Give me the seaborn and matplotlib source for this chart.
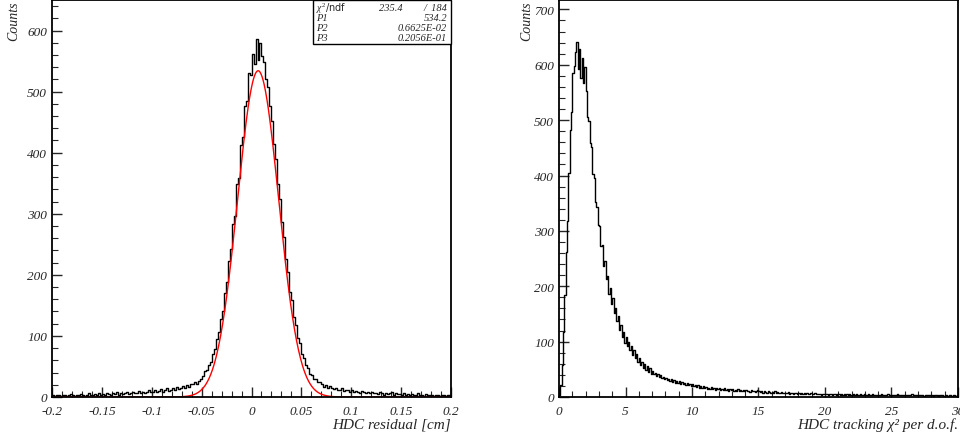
import matplotlib
matplotlib.use("Agg")
import matplotlib.pyplot as plt
import numpy as np
import pandas as pd
import seaborn as sns
from matplotlib.patches import Rectangle
from matplotlib.ticker import FuncFormatter, MultipleLocator

sns.set_style("ticks")
plt.rcParams["font.family"] = ["Liberation Serif", "DejaVu Serif"]
plt.rcParams["mathtext.fontset"] = "custom"
plt.rcParams["mathtext.it"] = "Liberation Serif:italic"
plt.rcParams["mathtext.rm"] = "Liberation Serif"

# HDC residual histogram, 200 bins from -0.2 to 0.2 cm
RES_RANGE = (-0.2, 0.2)
res_counts = [
    3, 2, 4, 3, 1, 3, 4, 2, 3, 5, 3, 2, 4, 3, 5, 4, 2, 4, 6, 3, 4, 5, 3, 6, 4,
    5, 4, 7, 5, 3, 6, 5, 8, 4, 6, 5, 7, 9, 5, 6,
    8, 6, 7, 10, 7, 8, 6, 9, 11, 8,
    9, 12, 8, 10, 13, 9, 11, 14, 10, 12,
    14, 12, 16, 13, 15,
    18, 15, 19, 17, 21,
    22, 25, 21, 27, 29,
    34, 42, 44, 53, 58,
    70, 79, 95, 106, 128,
    141, 170, 188, 222, 243,
    283, 296, 348, 359, 413,
    425, 476, 484, 530, 528,
    562, 545, 586, 551, 580,
    559, 548, 521, 507, 476,
    452, 415, 389, 349, 324,
    287, 262, 226, 204, 172,
    158, 131, 118, 96, 88,
    71, 64, 52, 47, 38,
    36, 29, 30, 24, 25,
    21, 17, 19, 15, 18,
    15, 13, 14, 12, 11, 14, 10, 12, 11, 9,
    11, 8, 10, 9, 7, 10, 8, 6, 9, 7,
    8, 6, 7, 5, 8, 6, 4, 7, 5, 6, 8, 4, 6, 5, 5,
    4, 6, 3, 5, 4, 5, 3, 4, 6, 3, 4, 2, 5, 3, 4, 3, 2, 4, 3, 2, 4, 3, 2, 3, 3,
]

# gaussian fit parameters from the stats box
fit_chi2 = 235.4
fit_ndf = 184
fit_p1 = 534.2
fit_p2 = 0.6625e-02
fit_p3 = 0.2056e-01

# HDC tracking chi2 per d.o.f., 300 bins from 0 to 30
CHI_RANGE = (0.0, 30.0)
chi_counts = [
    3, 22, 58, 118, 185, 262, 318, 405, 482, 515,
    585, 598, 624, 641, 592, 628, 576, 612, 568, 596,
    552, 505, 498, 458, 451, 402, 395, 352, 344, 311,
    308, 272, 275, 236, 246, 214, 219, 186, 197, 168,
    178, 151, 160, 137, 146, 121, 130, 108, 117, 98,
    108, 92, 100, 84, 92, 76, 85, 70, 77, 63,
    70, 58, 64, 53, 60, 49, 56, 45, 52, 42,
    47, 41, 44, 38, 41, 36, 39, 34, 37, 32,
    35, 30, 33, 28, 32, 27, 30, 26, 29, 25,
    28, 24, 27, 23, 26, 22, 25, 21, 24, 20,
    23, 20, 22, 18, 21, 17, 20, 16, 19, 17,
    18, 15, 17, 14, 18, 15, 16, 13, 17, 14,
    16, 13, 15, 12, 16, 13, 14, 11, 15, 12,
    14, 11, 13, 10, 14, 11, 12, 10, 13, 11,
    12, 10, 11, 9, 12, 10, 11, 9, 10, 12,
    10, 9, 11, 8, 10, 9, 8, 10, 9, 8,
    9, 8, 10, 7, 9, 8, 7, 9, 8, 7,
    8, 7, 9, 6, 8, 7, 6, 8, 7, 6,
    7, 6, 8, 6, 7, 5, 7, 6, 5, 7,
    6, 5, 7, 5, 6, 5, 6, 4, 6, 5,
    5, 6, 4, 5, 6, 4, 5, 5, 4, 6,
    5, 4, 6, 4, 5, 4, 5, 3, 5, 4,
    4, 5, 3, 5, 4, 4, 5, 3, 4, 5,
    4, 3, 5, 4, 3, 5, 4, 3, 4, 4,
    3, 4, 5, 3, 4, 3, 4, 5, 3, 4,
    4, 3, 4, 3, 5, 3, 4, 3, 4, 3,
    3, 4, 3, 4, 3, 5, 3, 4, 3, 3,
    4, 3, 3, 4, 2, 4, 3, 3, 4, 3,
    3, 2, 4, 3, 3, 2, 4, 3, 3, 2,
    3, 3, 2, 4, 3, 2, 3, 3, 2, 3,
]


def draw_hist(ax, counts, lo, hi):
    n = len(counts)
    width = (hi - lo) / n
    df = pd.DataFrame({"x": lo + width * (np.arange(n) + 0.5), "w": counts})
    sns.histplot(data=df, x="x", weights="w", bins=n, binrange=(lo, hi),
                 element="step", fill=False, color="black", linewidth=1.0, ax=ax)


def style_axes(ax, xmaj, xmin, ymaj, ymin):
    ax.xaxis.set_major_locator(MultipleLocator(xmaj))
    ax.xaxis.set_minor_locator(MultipleLocator(xmin))
    ax.yaxis.set_major_locator(MultipleLocator(ymaj))
    ax.yaxis.set_minor_locator(MultipleLocator(ymin))
    ax.xaxis.set_major_formatter(FuncFormatter(lambda v, p: f"{v:g}" if abs(v) > 1e-9 else "0"))
    ax.tick_params(which="major", direction="in", length=7, width=1.0, labelsize=9.5)
    ax.tick_params(which="minor", direction="in", length=4, width=0.8)
    ax.tick_params(axis="x", pad=6)
    for lab in ax.get_xticklabels() + ax.get_yticklabels():
        lab.set_fontstyle("italic")
    for sp in ax.spines.values():
        sp.set_visible(True)
        sp.set_linewidth(1.3)
        sp.set_color("black")


fig = plt.figure(figsize=(9.6, 4.39), dpi=100)
ax1 = fig.add_axes([0.0542, 0.0934, 0.4156, 0.9043])
ax2 = fig.add_axes([0.5823, 0.0934, 0.4156, 0.9043])

# left: residual with gaussian fit
draw_hist(ax1, res_counts, *RES_RANGE)
fit_x = np.linspace(RES_RANGE[0], RES_RANGE[1], 801)
fit_y = fit_p1 * np.exp(-0.5 * ((fit_x - fit_p2) / fit_p3) ** 2)
sns.lineplot(x=fit_x, y=fit_y, color="red", linewidth=1.0, estimator=None, sort=False, ax=ax1)
ax1.set_xlim(*RES_RANGE)
ax1.set_ylim(0, 650)
style_axes(ax1, 0.05, 0.01, 100, 20)
ax1.set_xlabel("HDC residual [cm]", loc="right", fontsize=11, fontstyle="italic", labelpad=0)
ax1.set_ylabel("Counts", loc="top", fontsize=10, fontstyle="italic", labelpad=5)

# stats box
ax1.add_patch(Rectangle((0.654, 0.888), 0.346, 0.112, transform=ax1.transAxes,
                        facecolor="white", edgecolor="black", linewidth=1.0, zorder=5, clip_on=False))
rows = [
    (r"$\chi^2$/ndf", f"{fit_chi2:.1f}", f"/  {fit_ndf}"),
    ("P1", None, f"{fit_p1:.1f}"),
    ("P2", None, "0.6625E-02"),
    ("P3", None, "0.2056E-01"),
]
row_y = [0.980, 0.955, 0.930, 0.905]
for (name, mid, val), yy in zip(rows, row_y):
    if mid is not None:
        ax1.text(0.662, yy, name, transform=ax1.transAxes, fontsize=7, va="center",
                 family=["DejaVu Sans"], zorder=6)
        ax1.text(0.850, yy, mid, transform=ax1.transAxes, fontsize=7.5, va="center",
                 ha="center", fontstyle="italic", zorder=6)
    else:
        ax1.text(0.662, yy, name, transform=ax1.transAxes, fontsize=7.5, va="center",
                 fontstyle="italic", zorder=6)
    ax1.text(0.99, yy, val, transform=ax1.transAxes, fontsize=7.5, va="center",
             ha="right", fontstyle="italic", zorder=6)

# right: tracking chi2
draw_hist(ax2, chi_counts, *CHI_RANGE)
ax2.set_xlim(*CHI_RANGE)
ax2.set_ylim(0, 717)
style_axes(ax2, 5, 1, 100, 20)
ax2.set_xlabel("HDC tracking χ² per d.o.f.", loc="right", fontsize=11, fontstyle="italic", labelpad=0)
ax2.set_ylabel("Counts", loc="top", fontsize=10, fontstyle="italic", labelpad=1)

fig.savefig("out.png", dpi=100)
